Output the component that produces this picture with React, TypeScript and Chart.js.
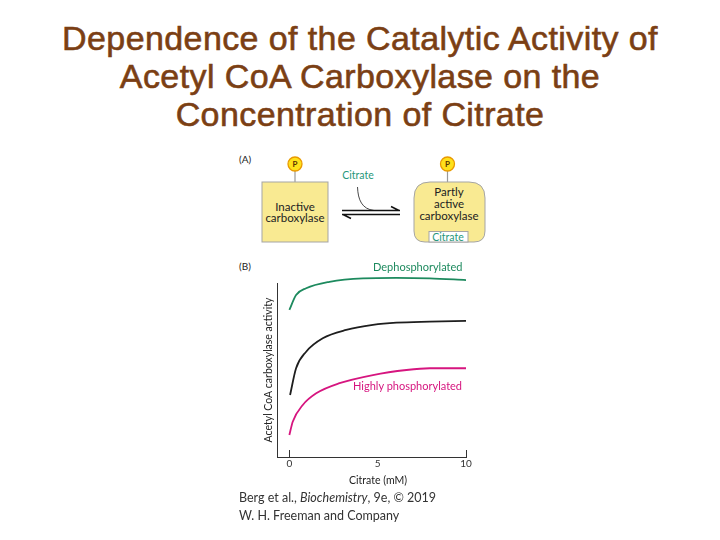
import React, { useEffect, useRef } from "react";
import { Chart, registerables } from "chart.js";

Chart.register(...registerables);

// ---- data (panel B) ----
const citrateDeph = [0, 0.38, 0.95, 2.27, 4.17, 6.06, 7.95, 10.0];
const activityDeph = [84.5, 93.1, 97.0, 100.7, 102.7, 103.0, 102.7, 101.7];
const citrateMid = [0.04, 0.38, 0.95, 1.89, 3.22, 4.73, 6.06, 7.95, 10.0];
const activityMid = [35.6, 51.0, 60.5, 68.2, 73.0, 75.9, 77.2, 77.8, 78.2];
const citrateHigh = [0, 0.19, 0.76, 1.52, 2.84, 4.73, 6.63, 7.95, 10.0];
const activityHigh = [12.6, 20.3, 29.9, 36.6, 42.4, 47.1, 50.0, 51.0, 51.0];
const xTicks = [0, 5, 10];
const markedTicks = [0, 10];

const seriesLabels = ["Dephosphorylated", "Partly phosphorylated", "Highly phosphorylated"];
const yTitle = "Acetyl CoA carboxylase activity";
const xTitle = "Citrate (mM)";

const GREEN = "#1d8a5e";
const PINK = "#d6157f";
const TEAL = "#27977a";
const FONT = "Lato, 'Noto Sans', sans-serif";

function pairs(xs: number[], ys: number[]) {
  return xs.map((x, i) => ({ x, y: ys[i] }));
}

const tickMarks = {
  id: "tickMarks",
  afterDraw(chart: any) {
    const { ctx, chartArea, scales } = chart;
    ctx.save();
    ctx.strokeStyle = "#333";
    ctx.lineWidth = 1;
    markedTicks.forEach((v) => {
      const px = Math.round(scales.x.getPixelForValue(v)) + 0.5;
      ctx.beginPath();
      ctx.moveTo(px, chartArea.bottom);
      ctx.lineTo(px, chartArea.bottom - 7);
      ctx.stroke();
    });
    ctx.restore();
  },
};

export default function App() {
  const ref = useRef<HTMLCanvasElement | null>(null);

  useEffect(() => {
    if (!ref.current) return;
    const common = {
      pointRadius: 0,
      borderWidth: 1.8,
      cubicInterpolationMode: "monotone" as const,
      clip: false as any,
      fill: false,
    };
    const chart = new Chart(ref.current, {
      type: "line",
      data: {
        datasets: [
          { ...common, label: seriesLabels[0], data: pairs(citrateDeph, activityDeph), borderColor: GREEN },
          { ...common, label: seriesLabels[1], data: pairs(citrateMid, activityMid), borderColor: "#1e1e1e" },
          { ...common, label: seriesLabels[2], data: pairs(citrateHigh, activityHigh), borderColor: PINK },
        ],
      },
      options: {
        animation: false,
        responsive: false,
        devicePixelRatio: 1,
        layout: { padding: { left: 258, top: 283, right: 254, bottom: 53 } },
        plugins: { legend: { display: false }, tooltip: { enabled: false }, title: { display: false } },
        scales: {
          x: {
            type: "linear",
            min: -0.7,
            max: 10,
            afterBuildTicks: (s: any) => {
              s.ticks = xTicks.map((v) => ({ value: v }));
            },
            afterFit: (s: any) => {
              s.height = 30;
            },
            grid: { display: false, drawTicks: false },
            border: { display: true, color: "#333", width: 1 },
            ticks: {
              color: "#333",
              font: { family: FONT, size: 10 },
              padding: 1,
              maxRotation: 0,
              autoSkip: false,
            },
          },
          y: {
            min: 0,
            max: 100,
            afterFit: (s: any) => {
              s.width = 19;
            },
            grid: { display: false, drawTicks: false },
            border: { display: true, color: "#333", width: 1 },
            ticks: { display: false },
            title: {
              display: true,
              text: yTitle,
              color: "#222",
              font: { family: FONT, size: 10.5 },
              padding: { top: 4, bottom: 0 },
            },
          },
        },
      },
      plugins: [tickMarks],
    });
    return () => chart.destroy();
  }, []);

  const abs = (s: React.CSSProperties): React.CSSProperties => ({ position: "absolute", ...s });

  return (
    <div style={{ position: "fixed", left: 0, top: 0, width: 720, height: 540, background: "#fff", overflow: "hidden" }}>
      <div
        style={abs({
          left: 0,
          top: 19,
          width: 720,
          textAlign: "center",
          fontFamily: "'Liberation Sans', Arial, sans-serif",
          fontSize: 34,
          letterSpacing: "0.4px",
          lineHeight: "38px",
          color: "#7b3f14",
          WebkitTextStroke: "0.6px #7b3f14",
        } as React.CSSProperties)}
      >
        Dependence of the Catalytic Activity of
        <br />
        Acetyl CoA Carboxylase on the
        <br />
        Concentration of Citrate
      </div>

      <svg width={720} height={540} style={abs({ left: 0, top: 0 })} fontFamily={FONT}>
        <text x={239} y={160} fontSize={10} fill="#222" dominantBaseline="middle">(A)</text>
        {/* left enzyme */}
        <line x1={295} y1={171} x2={295} y2={182} stroke="#999" strokeWidth={1.2} />
        <rect x={262} y={182} width={66} height={60} fill="#f9ea92" stroke="#a5a5a5" strokeWidth={1} />
        <circle cx={295} cy={164} r={7} fill="#ffe11a" stroke="#e99a00" strokeWidth={1.3} />
        <text x={295} y={164.5} fontSize={8} fontWeight="bold" fill="#5a3300" textAnchor="middle" dominantBaseline="middle">P</text>
        <text x={295} y={208} fontSize={11.5} fill="#222" textAnchor="middle" dominantBaseline="middle">Inactive</text>
        <text x={295} y={219.5} fontSize={11.5} fill="#222" textAnchor="middle" dominantBaseline="middle">carboxylase</text>

        {/* equilibrium arrows */}
        <text x={358} y={176.5} fontSize={10.5} fill={TEAL} textAnchor="middle" dominantBaseline="middle">Citrate</text>
        <path d="M357.5 187 C 358 200, 362 209, 374 210.5" fill="none" stroke="#333" strokeWidth={0.9} />
        <path d="M342 210.5 H400 M391 206.5 L399 210.5" fill="none" stroke="#111" strokeWidth={1.5} />
        <path d="M342 214.5 H400 M343 214.5 L351 218.5" fill="none" stroke="#111" strokeWidth={1.5} />

        {/* right enzyme */}
        <line x1={447.5} y1={171} x2={447.5} y2={182} stroke="#999" strokeWidth={1.2} />
        <path
          d="M430 182 H469 Q485 182 485 198 V231 Q485 242 474 242 H425 Q414 242 414 231 V198 Q414 182 430 182 Z"
          fill="#f9ea92"
          stroke="#a5a5a5"
          strokeWidth={1}
        />
        <rect x={429} y={231.5} width={39} height={10.5} fill="#fff" stroke="#a5a5a5" strokeWidth={1} />
        <circle cx={447.5} cy={164} r={7} fill="#ffe11a" stroke="#e99a00" strokeWidth={1.3} />
        <text x={447.5} y={164.5} fontSize={8} fontWeight="bold" fill="#5a3300" textAnchor="middle" dominantBaseline="middle">P</text>
        <text x={449} y={193} fontSize={11.5} fill="#222" textAnchor="middle" dominantBaseline="middle">Partly</text>
        <text x={449} y={205} fontSize={11.5} fill="#222" textAnchor="middle" dominantBaseline="middle">active</text>
        <text x={449} y={217} fontSize={11.5} fill="#222" textAnchor="middle" dominantBaseline="middle">carboxylase</text>
        <text x={448} y={238} fontSize={10.5} fill={TEAL} textAnchor="middle" dominantBaseline="middle">Citrate</text>

        <text x={239} y={267} fontSize={10} fill="#222" dominantBaseline="middle">(B)</text>
      </svg>

      <canvas ref={ref} width={720} height={540} style={abs({ left: 0, top: 0, width: 720, height: 540 })} />

      <div style={abs({ left: 373, top: 260, fontFamily: FONT, fontSize: 11, color: GREEN, whiteSpace: "nowrap" })}>
        {seriesLabels[0]}
      </div>
      <div style={abs({ left: 353, top: 379, fontFamily: FONT, fontSize: 11, color: PINK, whiteSpace: "nowrap" })}>
        {seriesLabels[2]}
      </div>
      <div style={abs({ left: 318, top: 474, width: 120, textAlign: "center", fontFamily: FONT, fontSize: 10.5, color: "#222" })}>
        {xTitle}
      </div>
      <div style={abs({ left: 239, top: 489, fontFamily: FONT, fontSize: 12.5, lineHeight: "18px", color: "#333", whiteSpace: "nowrap" })}>
        Berg et al., <i>Biochemistry</i>, 9e, © 2019
        <br />
        W. H. Freeman and Company
      </div>
    </div>
  );
}
